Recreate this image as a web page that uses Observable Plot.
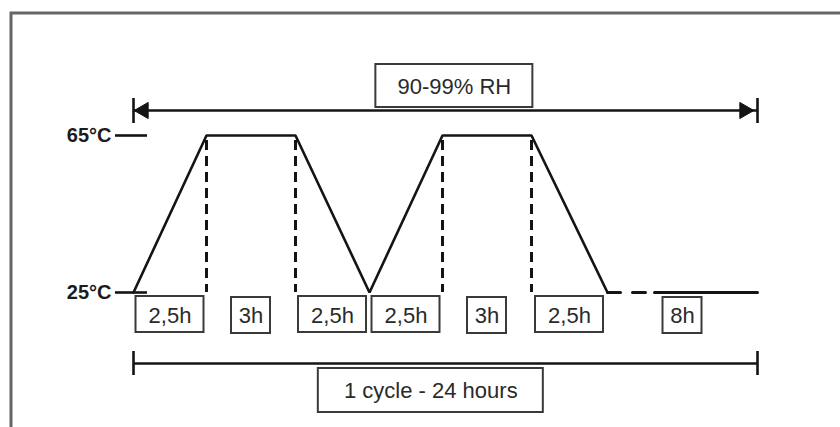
<!DOCTYPE html>
<html>
<head>
<meta charset="utf-8">
<script src="https://cdn.jsdelivr.net/npm/d3@7"></script>
<script src="https://cdn.jsdelivr.net/npm/@observablehq/plot@0.6"></script>
<style>
  html, body { margin: 0; padding: 0; background: #fff; overflow: hidden; }
  #chart { width: 840px; height: 427px; overflow: hidden; }
  #chart svg { display: block; }
</style>
</head>
<body>
<div id="chart"></div>
<script>
// ---- data ----
const phaseLabels = ["2,5h", "3h", "2,5h", "2,5h", "3h", "2,5h", "8h"];
const phaseHours  = [2.5, 3, 2.5, 2.5, 3, 2.5, 8];
const phaseStartTemps = [25, 65, 65, 25, 65, 65, 25]; // temperature at the start of each phase
const phaseEndTemps   = [65, 65, 25, 65, 65, 25, 25]; // temperature at the end of each phase
const tempTicks  = [25, 65];
const tempTickLabels = ["25°C", "65°C"];
const rhLabel    = "90-99% RH";
const rhLabelAt  = 10.9;   // hours, centre of the RH label
const cycleLabel = "1 cycle - 24 hours";
const cycleLabelAt = 10.1; // hours, centre of the cycle label
const cycleHours = 24;

// ---- derived tables ----
const bounds = [0];
phaseHours.forEach(h => bounds.push(bounds[bounds.length - 1] + h));
const phases = phaseLabels.map((label, i) => ({
  label, start: bounds[i], end: bounds[i + 1], mid: (bounds[i] + bounds[i + 1]) / 2,
  t0: phaseStartTemps[i], t1: phaseEndTemps[i]
}));
const profile = [{t: 0, temp: phaseStartTemps[0]}]
  .concat(phases.slice(0, 6).map(p => ({t: p.end, temp: p.t1})));
const dwell = [{t: phases[6].start, temp: phases[6].t0}, {t: phases[6].end, temp: phases[6].t1}];
const plateauEdges = phases.filter(p => p.t0 === 65 && p.t1 === 65).flatMap(p => [p.start, p.end]);
const wideBoxes = phases.filter(p => p.label.length > 2);
const narrowBoxes = phases.filter(p => p.label.length <= 2);
const ticks = tempTicks.map((v, i) => ({v, label: tempTickLabels[i]}));

const ink = "#141414";
const boxStroke = "#3a3a3a";
const textColor = "#2a2a2a";
const font = "Liberation Sans, Arial, Helvetica, sans-serif";

// frame rectangle runs off the right and bottom of the picture: draw only its top and left edges
const frameW = 840 - 11 + 40, frameH = 427 - 13 + 40;

const chart = Plot.plot({
  width: 840,
  height: 427,
  margin: 0,
  style: {background: "#fff", overflow: "hidden", fontFamily: font},
  x: {type: "linear", domain: bounds, range: [133, 206, 295, 369, 442, 531, 607, 757], axis: null},
  y: {domain: [25, 65], range: [292, 135], axis: null},
  marks: [
    Plot.rect([{}], {insetLeft: 11, insetTop: 13, insetRight: -40, insetBottom: -40,
      fill: "none", stroke: "#666", strokeWidth: 3,
      strokeDasharray: `${frameW},${frameH + frameW},${frameH + 2}`}),

    // dashed verticals at the plateau edges
    Plot.ruleX(plateauEdges, {y1: 65, y2: 25, insetTop: 5, stroke: ink, strokeWidth: 3, strokeDasharray: "10,6"}),

    // temperature profile
    Plot.line(profile, {x: "t", y: "temp", stroke: ink, strokeWidth: 2.6, strokeLinejoin: "miter"}),
    // final dwell: dashed start then solid
    Plot.line(dwell, {x: "t", y: "temp", stroke: ink, strokeWidth: 3, strokeDasharray: "13,12,13,9,300"}),

    // temperature ticks and labels
    Plot.ruleY(ticks, {y: "v", x1: 0, x2: 0, insetLeft: -18, insetRight: -14, stroke: ink, strokeWidth: 2.6}),
    Plot.text(ticks, {x: 0, y: "v", text: "label", dx: -22, textAnchor: "end", fontWeight: "bold",
      fontSize: 20, fill: "#1c1c1c", letterSpacing: -0.5}),

    // RH span
    Plot.ruleY([65], {x1: 0, x2: cycleHours, dy: -25, stroke: ink, strokeWidth: 2.6}),
    Plot.ruleX([0, cycleHours], {y1: 65, y2: 65, dy: -25, insetTop: -12, insetBottom: -13, stroke: ink, strokeWidth: 2.6}),
    Plot.dot([0], {x: d => d, y: 65, dy: -25, dx: 10, symbol: "triangle", rotate: -90, r: 6, fill: ink, stroke: ink, strokeWidth: 1}),
    Plot.dot([cycleHours], {x: d => d, y: 65, dy: -25, dx: -13, symbol: "triangle", rotate: 90, r: 6, fill: ink, stroke: ink, strokeWidth: 1}),
    Plot.rect([rhLabelAt], {x1: d => d, x2: d => d, y1: 65, y2: 65, dy: -25,
      insetLeft: -78.5, insetRight: -78.5, insetTop: -46, insetBottom: 3,
      fill: "#fff", stroke: boxStroke, strokeWidth: 2}),
    Plot.text([rhLabel], {x: rhLabelAt, y: 65, dy: -49, text: d => d, fontSize: 22, fill: textColor}),

    // phase duration boxes
    Plot.rect(wideBoxes, {x1: "mid", x2: "mid", y1: 25, y2: 25,
      insetLeft: -34, insetRight: -34, insetTop: 4, insetBottom: -40,
      fill: "#fff", stroke: boxStroke, strokeWidth: 2}),
    Plot.rect(narrowBoxes, {x1: "mid", x2: "mid", y1: 25, y2: 25,
      insetLeft: -19.5, insetRight: -19.5, insetTop: 5, insetBottom: -41,
      fill: "#fff", stroke: boxStroke, strokeWidth: 2}),
    Plot.text(phases, {x: "mid", y: 25, text: "label", dy: 23, fontSize: 22, fill: textColor}),

    // cycle span
    Plot.ruleY([25], {x1: 0, x2: cycleHours, dy: 71, stroke: ink, strokeWidth: 2.6}),
    Plot.ruleX([0, cycleHours], {y1: 25, y2: 25, dy: 71, insetTop: -12, insetBottom: -12, stroke: ink, strokeWidth: 2.6}),
    Plot.rect([cycleLabelAt], {x1: d => d, x2: d => d, y1: 25, y2: 25, dy: 71,
      insetLeft: -112.5, insetRight: -112.5, insetTop: 5, insetBottom: -49,
      fill: "#fff", stroke: boxStroke, strokeWidth: 2}),
    Plot.text([cycleLabel], {x: cycleLabelAt, y: 25, dy: 98, text: d => d, fontSize: 22, fill: textColor})
  ]
});
chart.style.overflow = "hidden";
document.getElementById("chart").appendChild(chart);
</script>
</body>
</html>
